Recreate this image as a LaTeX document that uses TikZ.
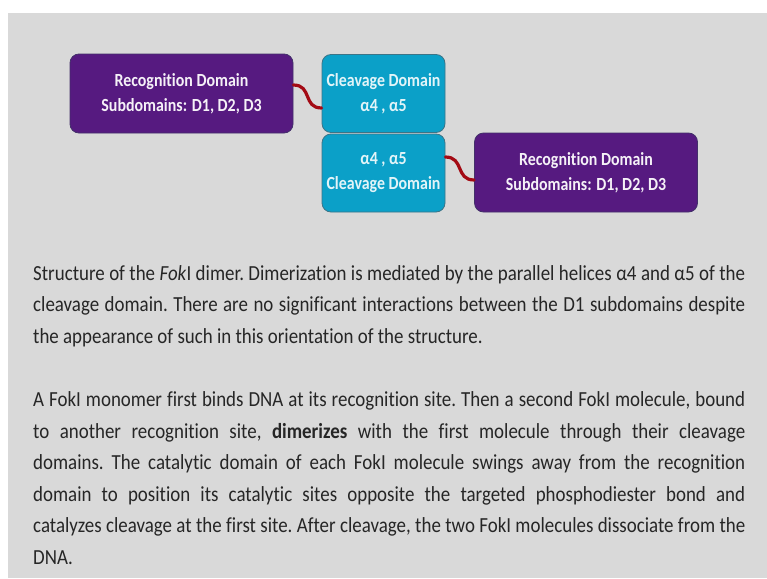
\documentclass[tikz,border=0pt]{standalone}
\usepackage{fontspec}
\setmainfont{Carlito}[FakeStretch=0.86]
\newfontfamily\bodyfont{Carlito}[FakeStretch=0.88, Ligatures=NoCommon]
\newfontfamily\boxfont{Carlito}[FakeStretch=0.86, Ligatures=NoCommon]
\definecolor{bggray}{HTML}{D9D9D9}
\definecolor{dompurple}{HTML}{561A80}
\definecolor{domcyan}{HTML}{0BA0C8}
\definecolor{purpleedge}{HTML}{43306A}
\definecolor{cyanedge}{HTML}{3C7487}
\definecolor{linkred}{HTML}{A30A14}
\definecolor{bodytext}{HTML}{262626}
\tikzset{
  dombox/.style={rounded corners=9pt, line width=0.8pt, inner sep=0pt, align=center,
     font={\boxfont\fontsize{18.5}{25}\selectfont\bfseries}},
  recog/.style={dombox, fill=dompurple, draw=purpleedge, text=white!94!dompurple,
     minimum width=223pt, minimum height=79pt},
  cleave/.style={dombox, fill=domcyan, draw=cyanedge, text=white!88!domcyan,
     minimum width=123pt, minimum height=78pt},
  link/.style={draw=linkred, line width=3.2pt, line cap=round},
  bodyline/.style={anchor=base west, inner sep=0pt, text=bodytext,
     font={\bodyfont\fontsize{21.5}{31.6}\selectfont\frenchspacing}}
}
\newcommand\jline[1]{\makebox[712pt][s]{#1}}
\begin{document}
\begin{tikzpicture}[x=1pt,y=-1pt]
\useasboundingbox (0,0) rectangle (767,578);
\fill[white] (0,0) rectangle (767,578);
\fill[bggray] (8,13) rectangle (767,578);

\node[recog]  (b1) at (181.5,93.5) {Recognition Domain\\Subdomains: D1, D2, D3};
\node[cleave] (b2) at (383.5,93.5) {Cleavage Domain\\α4 , α5};
\node[cleave] (b3) at (383.5,173) {α4 , α5\\Cleavage Domain};
\node[recog]  (b4) at (586,172.5) {Recognition Domain\\Subdomains: D1, D2, D3};

\coordinate (l1s) at ([yshift=8.5pt]b1.east);
\coordinate (l1e) at ([yshift=-14.5pt]b2.west);
\coordinate (l2s) at ([yshift=16pt]b3.east);
\coordinate (l2e) at ([yshift=-7.5pt]b4.west);
\draw[link] (l1s) .. controls +(19,0) and +(-19,0) .. (l1e);
\draw[link] (l2s) .. controls +(19,0) and +(-19,0) .. (l2e);

\node[bodyline] (p1a) at (33,280) {\jline{Structure of the \textit{Fok}I dimer. Dimerization is mediated by the parallel helices α4 and α5 of the}};
\node[bodyline] (p1b) at (33,311.6) {\jline{cleavage domain. There are no significant interactions between the D1 subdomains despite}};
\node[bodyline] (p1c) at (33,343) {the appearance of such in this orientation of the structure.};

\node[bodyline] (p2a) at (33,406.5) {\jline{A FokI monomer first binds DNA at its recognition site. Then a second FokI molecule, bound}};
\node[bodyline] (p2b) at (33,438) {\jline{to another recognition site, \textbf{dimerizes} with the first molecule through their cleavage}};
\node[bodyline] (p2c) at (33,469.6) {\jline{domains. The catalytic domain of each FokI molecule swings away from the recognition}};
\node[bodyline] (p2d) at (33,501.2) {\jline{domain to position its catalytic sites opposite the targeted phosphodiester bond and}};
\node[bodyline] (p2e) at (33,532.8) {\jline{catalyzes cleavage at the first site. After cleavage, the two FokI molecules dissociate from the}};
\node[bodyline] (p2f) at (33,564.4) {DNA.};
\end{tikzpicture}
\end{document}
